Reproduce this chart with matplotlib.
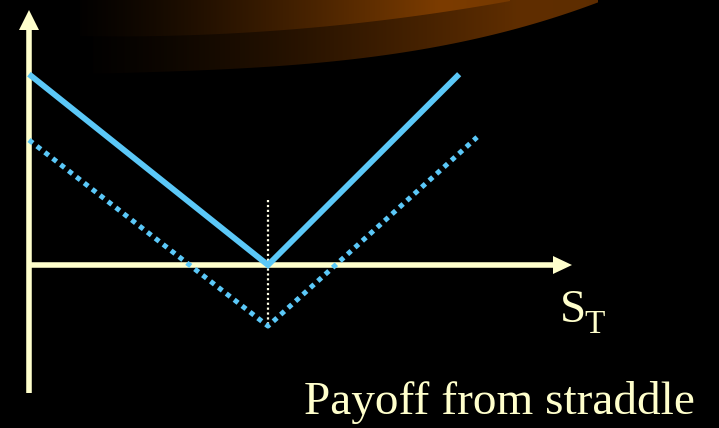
import numpy as np
import matplotlib
matplotlib.use("Agg")
import matplotlib.pyplot as plt
from matplotlib.patches import Polygon

plt.rcParams["font.family"] = "serif"
plt.rcParams["font.serif"] = ["Liberation Serif", "DejaVu Serif"]

# ---- data ----
strike = 60.0
payoff_S = [0.0, 60.0, 108.0]
payoff_vals = [60.0, 0.0, 60.0]
profit_S = [0.0, 60.0, 112.5]
profit_vals = [39.3, -19.2, 40.2]
strike_line_y = [20.4, -19.2]
x_axis_label = "S"
x_axis_sub = "T"
caption = "Payoff from straddle"

W, H = 719, 428
DPI = 100
PX_X = 3.983   # pixels per data unit (x)
PX_Y = 3.18    # pixels per data unit (y)
X0_PX, Y0_PX = 29.0, 265.0

fig = plt.figure(figsize=(W / DPI, H / DPI), dpi=DPI, facecolor="black")

# ---- decorative background swoosh (pixel coordinates) ----
bg = fig.add_axes([0, 0, 1, 1])
bg.set_xlim(0, W)
bg.set_ylim(H, 0)
bg.axis("off")
bg.set_facecolor("black")

xs = np.linspace(0, W, W)
def grad(peak, peak_x=440, right_fac=0.85, start=80):
    r = np.zeros((1, W, 3))
    for i, x in enumerate(xs):
        if x < start:
            f = 0.0
        elif x < peak_x:
            f = ((x - start) / (peak_x - start)) ** 1.3
        else:
            f = 1.0 - (1 - right_fac) * min(1.0, (x - peak_x) / 160)
        r[0, i] = np.array(peak) / 255.0 * f
    return np.clip(r, 0, 1)

def smooth_edge(px, py, x0, x1, deg=3):
    c = np.polyfit(px, py, deg)
    xx = np.linspace(x0, x1, 300)
    yy = np.clip(np.polyval(c, xx), 0, None)
    return xx, yy

# lower (darker) band
lxx, lyy = smooth_edge([93, 160, 200, 360, 450, 550, 598],
                       [73, 73, 71, 57, 43, 23, 0], 93, 598)
lower_poly = np.vstack([[[93, 0]], np.column_stack([lxx, lyy]), [[598, 0]]])
img_low = grad((96, 46, 0), peak_x=520, right_fac=0.95, start=70)
im1 = bg.imshow(np.repeat(img_low, 2, axis=0), extent=[0, W, H, 0], aspect="auto", zorder=1)
p1 = Polygon(lower_poly, closed=True, transform=bg.transData, facecolor="none", edgecolor="none")
bg.add_patch(p1)
im1.set_clip_path(p1)

# upper (brighter) band
uxx, uyy = smooth_edge([80, 200, 360, 450, 510], [37, 33, 24, 12, 0], 80, 510, deg=2)
upper_poly = np.vstack([[[80, 0]], np.column_stack([uxx, uyy]), [[510, 0]]])
img_up = grad((124, 60, 0), peak_x=440, right_fac=0.9, start=60)
im2 = bg.imshow(np.repeat(img_up, 2, axis=0), extent=[0, W, H, 0], aspect="auto", zorder=2)
p2 = Polygon(upper_poly, closed=True, transform=bg.transData, facecolor="none", edgecolor="none")
bg.add_patch(p2)
im2.set_clip_path(p2)

# ---- main axes in data coordinates ----
ax = fig.add_axes([0, 0, 1, 1])
ax.patch.set_alpha(0)
ax.axis("off")
ax.set_xlim(-X0_PX / PX_X, (W - X0_PX) / PX_X)
ax.set_ylim(-(H - Y0_PX) / PX_Y, Y0_PX / PX_Y)

axis_col = "#FFFFCC"
blue = "#5BC8F8"

y_bottom = -(393 - Y0_PX) / PX_Y
y_tip = (Y0_PX - 10) / PX_Y
x_tip = (572 - X0_PX) / PX_X
head_len_y = 20 / PX_Y
head_w_y = 10 / PX_X
head_len_x = 19 / PX_X
head_w_x = 9 / PX_Y
lw_axis = 4.0

ax.plot([0, 0], [y_bottom, y_tip - head_len_y + 0.5], color=axis_col, lw=lw_axis,
        solid_capstyle="butt", zorder=3)
ax.fill([-head_w_y, head_w_y, 0], [y_tip - head_len_y] * 2 + [y_tip], color=axis_col, lw=0, zorder=3)
ax.plot([0, x_tip - head_len_x + 0.5], [0, 0], color=axis_col, lw=lw_axis,
        solid_capstyle="butt", zorder=3)
ax.fill([x_tip - head_len_x] * 2 + [x_tip], [-head_w_x, head_w_x, 0], color=axis_col, lw=0, zorder=3)

ax.plot([strike, strike], strike_line_y, color="#FFFFE8", lw=1.6,
        linestyle=(0, (1, 1.2)), dash_capstyle="butt", zorder=4)

ax.plot(payoff_S, payoff_vals, color=blue, lw=4.2, solid_joinstyle="miter",
        solid_capstyle="butt", zorder=5)
ax.plot(profit_S, profit_vals, color=blue, lw=3.6, linestyle=(0, (1, 1)),
        dash_capstyle="butt", zorder=5)

fig.text(560 / W, 1 - 322 / H, x_axis_label, color=axis_col, fontsize=34,
         ha="left", va="baseline")
fig.text(584 / W, 1 - 333 / H, x_axis_sub, color=axis_col, fontsize=24,
         ha="left", va="baseline")
fig.text(304 / W, 1 - 414 / H, caption, color=axis_col, fontsize=34,
         ha="left", va="baseline")

fig.savefig("out.png", dpi=DPI, facecolor="black")
